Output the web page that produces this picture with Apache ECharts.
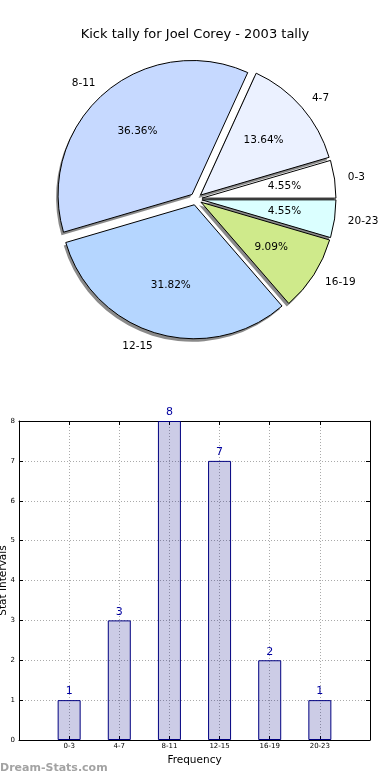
<!DOCTYPE html>
<html><head><meta charset="utf-8">
<script src="https://cdn.jsdelivr.net/npm/echarts@6/dist/echarts.min.js"></script>
<style>html,body{margin:0;padding:0;background:#fff}#c{width:390px;height:780px}</style>
</head><body><div id="c"></div>
<script>
const titleText = 'Kick tally for Joel Corey - 2003 tally';
const categories = ['0-3', '4-7', '8-11', '12-15', '16-19', '20-23'];
const counts = [1, 3, 8, 7, 2, 1];
const sliceColors = ['#ffffff', '#ebf1ff', '#c6d9ff', '#b5d6ff', '#cfea8b', '#dbffff'];
const xAxisName = 'Frequency';
const yAxisName = 'Stat Intervals';
const watermark = 'Dream-Stats.com';

const total = counts.reduce((a, b) => a + b, 0);
const font = 'DejaVu Sans';
const pieCenter = [196, 199];
const pieR = 134;
const explode = 6;

const pieData = categories.map((c, i) => ({
  name: c, value: counts[i], selected: true, itemStyle: { color: sliceColors[i] }
}));
const plainData = categories.map((c, i) => ({ name: c, value: counts[i], selected: true }));

const pieBase = {
  type: 'pie', startAngle: 0, clockwise: false,
  selectedMode: 'multiple', selectedOffset: explode,
  avoidLabelOverlap: false, emphasis: { disabled: true }
};

const chart = echarts.init(document.getElementById('c'), null, { renderer: 'canvas' });
chart.setOption({
  animation: false,
  backgroundColor: '#fff',
  textStyle: { fontFamily: font },
  title: {
    text: titleText, left: 'center', top: 22,
    textStyle: { fontSize: 13, fontWeight: 'normal', color: '#000', fontFamily: font, lineHeight: 16 }
  },
  graphic: [{
    type: 'text', left: 0, top: 763,
    style: { text: watermark, fontSize: 11, fontWeight: 'bold', fill: '#a3a3a3', fontFamily: font }
  }],
  grid: { left: 19, right: 20, top: 421, bottom: 40, containLabel: false, outerBoundsMode: 'none' },
  xAxis: [{
    type: 'value', min: -1, max: 6, interval: 1, position: 'bottom',
    name: xAxisName, nameLocation: 'middle', nameGap: 15, nameMoveOverlap: false,
    nameTextStyle: { fontSize: 10.5, color: '#000', fontFamily: font },
    axisLine: { show: true, onZero: false, lineStyle: { color: '#000', width: 1 } },
    axisTick: { show: true, inside: true, length: 4, lineStyle: { color: '#000' } },
    axisLabel: { fontSize: 7, color: '#000', margin: 3, fontFamily: font,
      formatter: v => (categories[v] !== undefined ? categories[v] : '') },
    splitLine: { show: true, lineStyle: { type: [1, 2], color: '#aaaaaa', width: 1 } }
  }, {
    type: 'value', min: -1, max: 6, interval: 1, position: 'top',
    axisLine: { show: true, onZero: false, lineStyle: { color: '#000', width: 1 } },
    axisTick: { show: true, inside: true, length: 4, lineStyle: { color: '#000' } },
    axisLabel: { show: false }, splitLine: { show: false }
  }],
  yAxis: [{
    type: 'value', min: 0, max: 8, interval: 1, position: 'left',
    name: yAxisName, nameLocation: 'middle', nameGap: 10, nameRotate: 90, nameMoveOverlap: false,
    nameTextStyle: { fontSize: 10.5, color: '#000', fontFamily: font },
    axisLine: { show: true, onZero: false, lineStyle: { color: '#000', width: 1 } },
    axisTick: { show: true, inside: true, length: 4, lineStyle: { color: '#000' } },
    axisLabel: { fontSize: 7, color: '#000', margin: 4, fontFamily: font },
    splitLine: { show: true, lineStyle: { type: [1, 2], color: '#aaaaaa', width: 1 } }
  }, {
    type: 'value', min: 0, max: 8, interval: 1, position: 'right',
    axisLine: { show: true, onZero: false, lineStyle: { color: '#000', width: 1 } },
    axisTick: { show: true, inside: true, length: 4, lineStyle: { color: '#000' } },
    axisLabel: { show: false }, splitLine: { show: false }
  }],
  series: [Object.assign({}, pieBase, {
    // shadow layer
    center: [pieCenter[0] - 2, pieCenter[1] + 3], radius: pieR, silent: true, z: 1,
    data: plainData,
    itemStyle: { color: 'rgba(60,60,60,0.6)', borderWidth: 0 },
    label: { show: false }, labelLine: { show: false }
  }), Object.assign({}, pieBase, {
    center: pieCenter, radius: pieR, z: 2,
    data: pieData,
    itemStyle: { borderColor: '#000', borderWidth: 1 },
    label: { show: true, position: 'outside', formatter: '{b}', fontSize: 10.5, color: '#000',
      fontFamily: font, distanceToLabelLine: 0 },
    labelLine: { show: false, length: pieR * 0.1, length2: 0 }
  }), Object.assign({}, pieBase, {
    center: pieCenter, radius: pieR * 1.2, silent: true, z: 5,
    data: plainData,
    itemStyle: { color: 'rgba(0,0,0,0)', borderWidth: 0 },
    label: { show: true, position: 'inside', fontSize: 10.5, color: '#000', fontFamily: font,
      formatter: p => (p.value / total * 100).toFixed(2) + '%' },
    labelLine: { show: false }
  }), {
    type: 'bar', xAxisIndex: 0, yAxisIndex: 0,
    data: counts.map((v, i) => [i, v]),
    barWidth: 23,
    itemStyle: { color: 'rgba(0,0,128,0.2)', borderColor: '#000080', borderWidth: 1 },
    label: { show: true, position: 'top', distance: 3, color: '#0000a0', fontSize: 11, fontFamily: font },
    emphasis: { disabled: true }
  }]
});
</script></body></html>
